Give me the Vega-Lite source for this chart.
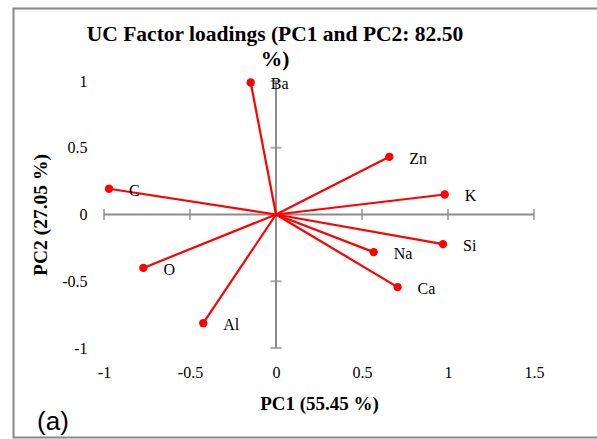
{
  "$schema": "https://vega.github.io/schema/vega-lite/v6.json",
  "width": 430,
  "height": 267,
  "padding": {"left": 12, "top": 7, "right": 0, "bottom": 0},
  "background": "white",
  "config": {"view": {"stroke": null}},
  "title": {
    "text": ["UC Factor loadings (PC1 and PC2: 82.50", "%)"],
    "font": "Liberation Serif",
    "fontSize": 21.5,
    "fontWeight": "bold",
    "color": "black",
    "lineHeight": 25,
    "offset": -63,
    "dx": -44,
    "anchor": "middle"
  },
  "datasets": {
    "loadings": [
      {"element": "Ba", "pc1": -0.147, "pc2": 0.989},
      {"element": "Zn", "pc1": 0.659, "pc2": 0.432},
      {"element": "K", "pc1": 0.981, "pc2": 0.150},
      {"element": "C", "pc1": -0.971, "pc2": 0.193},
      {"element": "Si", "pc1": 0.971, "pc2": -0.222},
      {"element": "Na", "pc1": 0.568, "pc2": -0.282},
      {"element": "Ca", "pc1": 0.707, "pc2": -0.544},
      {"element": "O", "pc1": -0.771, "pc2": -0.400},
      {"element": "Al", "pc1": -0.423, "pc2": -0.814}
    ],
    "axislines": [
      {"x": -1, "y": 0, "x2": 1.5, "y2": 0},
      {"x": 0, "y": -1, "x2": 0, "y2": 1}
    ],
    "xticks": [{"v": -1}, {"v": -0.5}, {"v": 0}, {"v": 0.5}, {"v": 1}, {"v": 1.5}],
    "yticks": [{"v": -1}, {"v": -0.5}, {"v": 0}, {"v": 0.5}, {"v": 1}]
  },
  "layer": [
    {
      "data": {"name": "axislines"},
      "mark": {"type": "rule", "color": "#8c8c8c", "strokeWidth": 2},
      "encoding": {
        "x": {"field": "x", "type": "quantitative", "scale": {"domain": [-1, 1.5], "nice": false, "zero": false},
          "axis": {"values": [-1, -0.5, 0, 0.5, 1, 1.5], "domain": false, "ticks": false, "grid": false,
            "labelExpr": "(datum.value < 0 ? '-' : '') + format(abs(datum.value), '~g')",
            "labelFont": "Liberation Serif", "labelFontSize": 16, "labelColor": "black", "labelPadding": 16,
            "title": "PC1 (55.45 %)", "titleFont": "Liberation Serif", "titleFontSize": 19, "titleFontWeight": "bold",
            "titleColor": "black", "titlePadding": 14, "labelFlush": false}},
        "y": {"field": "y", "type": "quantitative", "scale": {"domain": [-1, 1], "nice": false, "zero": false},
          "axis": {"values": [-1, -0.5, 0, 0.5, 1], "domain": false, "ticks": false, "grid": false,
            "labelExpr": "(datum.value < 0 ? '-' : '') + format(abs(datum.value), '~g')",
            "labelFont": "Liberation Serif", "labelFontSize": 16, "labelColor": "black", "labelPadding": 17,
            "title": "PC2 (27.05 %)", "titleFont": "Liberation Serif", "titleFontSize": 19.5, "titleFontWeight": "bold",
            "titleColor": "black", "titlePadding": 11, "labelFlush": false}},
        "x2": {"field": "x2"},
        "y2": {"field": "y2"}
      }
    },
    {
      "data": {"name": "xticks"},
      "mark": {"type": "tick", "orient": "vertical", "color": "#8c8c8c", "size": 11, "thickness": 2},
      "encoding": {
        "x": {"field": "v", "type": "quantitative"},
        "y": {"datum": 0, "type": "quantitative"}
      }
    },
    {
      "data": {"name": "yticks"},
      "mark": {"type": "tick", "orient": "horizontal", "color": "#8c8c8c", "size": 11, "thickness": 2},
      "encoding": {
        "x": {"datum": 0, "type": "quantitative"},
        "y": {"field": "v", "type": "quantitative"}
      }
    },
    {
      "data": {"name": "loadings"},
      "mark": {"type": "rule", "color": "#ff0000", "strokeWidth": 2.2},
      "encoding": {
        "x": {"field": "pc1", "type": "quantitative"},
        "y": {"field": "pc2", "type": "quantitative"},
        "x2": {"datum": 0},
        "y2": {"datum": 0}
      }
    },
    {
      "data": {"name": "loadings"},
      "mark": {"type": "circle", "color": "#ff0000", "size": 70, "opacity": 1},
      "encoding": {
        "x": {"field": "pc1", "type": "quantitative"},
        "y": {"field": "pc2", "type": "quantitative"}
      }
    },
    {
      "data": {"name": "loadings"},
      "mark": {"type": "text", "align": "left", "baseline": "middle", "dx": 20, "dy": 2,
        "font": "Liberation Serif", "fontSize": 16, "color": "black"},
      "encoding": {
        "x": {"field": "pc1", "type": "quantitative"},
        "y": {"field": "pc2", "type": "quantitative"},
        "text": {"field": "element"}
      }
    },
    {
      "data": {"values": [{"label": "(a)"}]},
      "mark": {"type": "text", "align": "center", "baseline": "middle",
        "font": "Liberation Sans", "fontSize": 26, "color": "black", "clip": false},
      "encoding": {
        "x": {"datum": -1.297, "type": "quantitative"},
        "y": {"datum": -1.558, "type": "quantitative"},
        "text": {"field": "label"}
      }
    },
    {
      "data": {"values": [{}]},
      "mark": {"type": "rect", "filled": false, "stroke": "#888888", "strokeWidth": 2, "clip": false},
      "encoding": {
        "x": {"datum": -1.526, "type": "quantitative"},
        "x2": {"datum": 1.9},
        "y": {"datum": 1.543, "type": "quantitative"},
        "y2": {"datum": -1.67}
      }
    }
  ]
}
